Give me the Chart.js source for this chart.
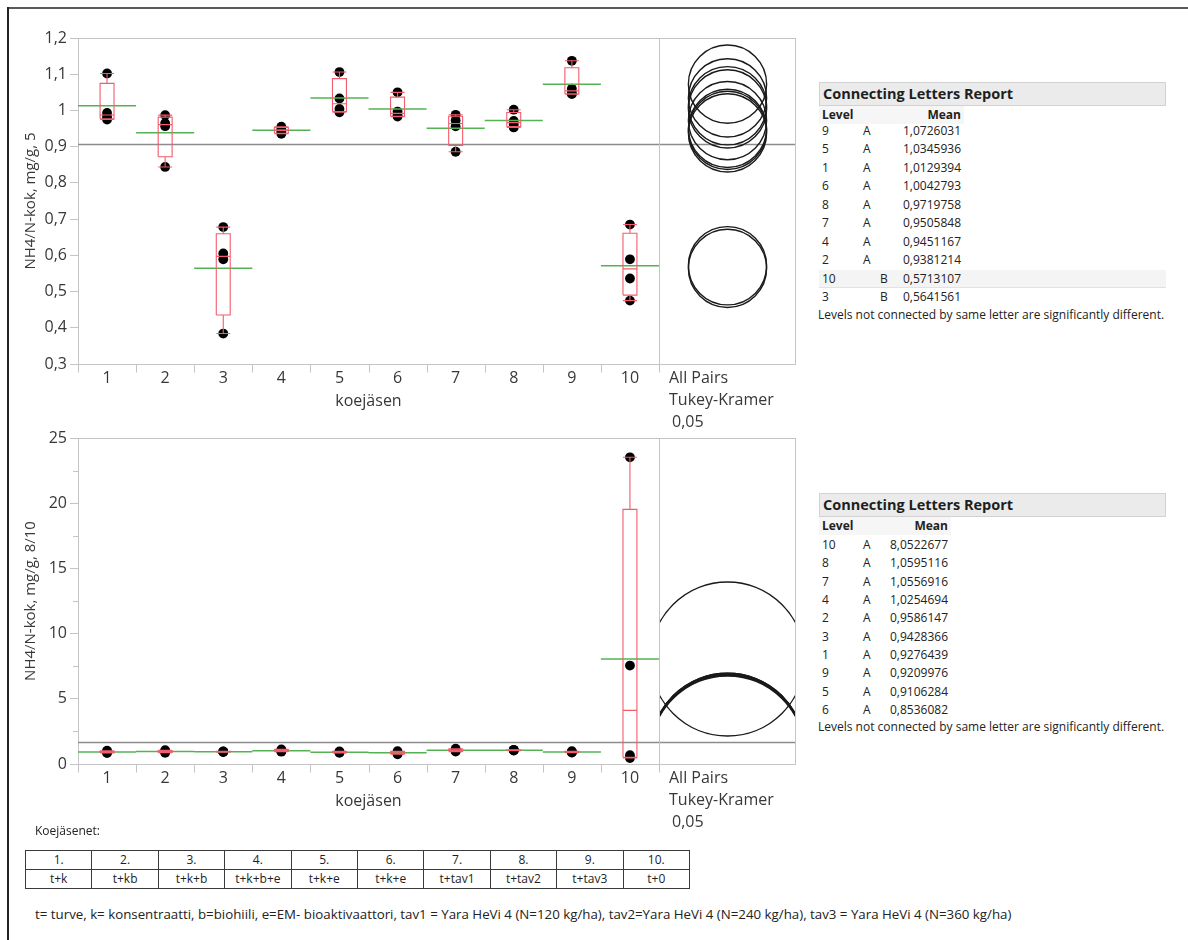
<!DOCTYPE html>
<html lang="fi">
<head>
<meta charset="utf-8">
<title>NH4/N-kok, Oneway</title>
<script src="https://cdn.jsdelivr.net/npm/chart.js@4.4.1/dist/chart.umd.min.js"></script>
<style>
  html, body { margin: 0; padding: 0; background: #fff; }
  body { position: relative; width: 1188px; height: 940px; overflow: hidden;
         font-family: "Open Sans", sans-serif; color: #222; }
  .edge-top  { position: absolute; left: 7px; top: 7px; width: 1181px; height: 2px; background: #5a5a5a; }
  .edge-left { position: absolute; left: 7px; top: 7px; width: 2px; height: 933px; background: #222; }
  canvas { position: absolute; left: 0; }
  #c5 { top: 0; }
  #c810 { top: 400px; }
  .t { position: absolute; white-space: nowrap; line-height: 18px; font-size: 12px; color: #222; }
  .head { position: absolute; left: 819px; width: 347px; height: 24px; box-sizing: border-box;
          background: #ebebeb; border: 1px solid #d2d2d2; font-weight: 700; font-size: 14.5px;
          line-height: 22px; padding-left: 3px; color: #1e1e1e; }
  .colhead { position: absolute; left: 819px; height: 18px; background: #f6f6f6; }
  .band { position: absolute; left: 819px; width: 347px; height: 18px; background: #f4f4f4;
          border-bottom: 1px solid #e2e2e2; box-sizing: border-box; }
  .b { font-weight: 700; }
  table.members { position: absolute; left: 25px; top: 850px; width: 665px; border-collapse: collapse;
                  table-layout: fixed; font-size: 12px; color: #1e1e1e; }
  table.members td { border: 1px solid #3a3a3a; height: 18px; padding: 0; text-align: center; line-height: 18px; }
</style>
</head>
<body>
<div class="edge-top"></div>
<div class="edge-left"></div>
<canvas id="c5" width="810" height="430"></canvas>
<canvas id="c810" width="810" height="430"></canvas>
<div id="reports"></div>
<div class="t" style="left:35px; top:822px; font-size:12px;">Koejäsenet:</div>
<table class="members" id="members"></table>
<div class="t" style="left:35px; top:905px; font-size:13.3px;">t= turve, k= konsentraatti, b=biohiili, e=EM- bioaktivaattori, tav1 = Yara HeVi 4 (N=120 kg/ha), tav2=Yara HeVi 4 (N=240 kg/ha), tav3 = Yara HeVi 4 (N=360 kg/ha)</div>

<script>
// Treatment levels and their descriptions
const levels = ['1', '2', '3', '4', '5', '6', '7', '8', '9', '10'];
const treatments = ['t+k', 't+kb', 't+k+b', 't+k+b+e', 't+k+e', 't+k+e', 't+tav1', 't+tav2', 't+tav3', 't+0'];

// NH4/N-kok, mg/g — sampling 5: four replicates per level
const obs5 = [
  [1.102, 0.993, 0.982, 0.975],
  [0.987, 0.965, 0.9565, 0.844],
  [0.678, 0.605, 0.589, 0.384],
  [0.955, 0.948, 0.942, 0.9355],
  [1.106, 1.033, 1.004, 0.995],
  [1.050, 0.997, 0.987, 0.983],
  [0.988, 0.972, 0.956, 0.886],
  [1.002, 0.971, 0.962, 0.953],
  [1.137, 1.060, 1.048, 1.045],
  [0.685, 0.589, 0.536, 0.475]
];
const means5 = [1.0129394, 0.9381214, 0.5641561, 0.9451167, 1.0345936, 1.0042793, 0.9505848, 0.9719758, 1.0726031, 0.5713107];
const letters5 = ['A', 'A', 'B', 'A', 'A', 'A', 'A', 'A', 'A', 'B'];
const yTicks5 = [0.3, 0.4, 0.5, 0.6, 0.7, 0.8, 0.9, 1.0, 1.1, 1.2];
const yTickLabels5 = ['0,3', '0,4', '0,5', '0,6', '0,7', '0,8', '0,9', '1', '1,1', '1,2'];
const circleRadius5 = 0.108;   // Tukey-Kramer comparison circle radius (data units)

// NH4/N-kok, mg/g — sampling 8/10
const obs810 = [
  [1.02, 0.95, 0.90, 0.8406],
  [1.06, 0.98, 0.93, 0.8645],
  [0.97, 0.95, 0.94, 0.9113],
  [1.12, 1.04, 1.00, 0.9419],
  [0.97, 0.92, 0.90, 0.8525],
  [0.98, 0.87, 0.82, 0.7444],
  [1.17, 1.08, 1.02, 0.9528],
  [1.09, 1.07, 1.05, 1.028],
  [0.98, 0.93, 0.90, 0.874],
  [23.52, 7.55, 0.68, 0.4591]
];
const means810 = [0.9276439, 0.9586147, 0.9428366, 1.0254694, 0.9106284, 0.8536082, 1.0556916, 1.0595116, 0.9209976, 8.0522677];
const letters810 = ['A', 'A', 'A', 'A', 'A', 'A', 'A', 'A', 'A', 'A'];
const yTicks810 = [0, 5, 10, 15, 20, 25];
const yTickLabels810 = ['0', '5', '10', '15', '20', '25'];
const yMinorTicks810 = [2.5, 7.5, 12.5, 17.5, 22.5];
const circleRadius810 = 5.9;

const panelLabels = ['All Pairs', 'Tukey-Kramer', '0,05'];

const AXIS_GRAY = '#c4c4c4';
const TEXT_GRAY = '#383838';
const BOX_RED = 'rgb(242, 92, 108)';
const MEAN_GREEN = 'rgb(84, 178, 84)';

// Quantile with the (n+1)p rule
function quantile(sorted, p) {
  const n = sorted.length, h = (n + 1) * p, lo = Math.floor(h), f = h - lo;
  if (lo < 1) return sorted[0];
  if (lo >= n) return sorted[n - 1];
  return sorted[lo - 1] + f * (sorted[lo] - sorted[lo - 1]);
}

// Outlier box plot outline as broken line segments
function boxSegments(obs) {
  const w = 0.12, out = [];
  const gap = (x) => out.push({ x, y: null });
  obs.forEach((g, i) => {
    const s = g.slice().sort((a, b) => a - b);
    const c = i + 1;
    const q1 = quantile(s, 0.25), med = quantile(s, 0.5), q3 = quantile(s, 0.75);
    const iqr = q3 - q1;
    const hi = Math.max(...s.filter(v => v <= q3 + 1.5 * iqr));
    const lo = Math.min(...s.filter(v => v >= q1 - 1.5 * iqr));
    out.push({ x: c - w, y: q1 }, { x: c + w, y: q1 }, { x: c + w, y: q3 }, { x: c - w, y: q3 }, { x: c - w, y: q1 }); gap(c);
    out.push({ x: c - w, y: med }, { x: c + w, y: med }); gap(c);
    out.push({ x: c, y: q3 }, { x: c, y: hi }); gap(c);
    out.push({ x: c - w, y: hi }, { x: c + w, y: hi }); gap(c);
    out.push({ x: c, y: q1 }, { x: c, y: lo }); gap(c);
    out.push({ x: c - w, y: lo }, { x: c + w, y: lo }); gap(c);
  });
  return out;
}

// Group mean lines spanning each level's width
function meanSegments(means) {
  const out = [];
  means.forEach((m, i) => {
    out.push({ x: i + 0.5, y: m }, { x: i + 1.5, y: m }, { x: i + 1.5, y: null });
  });
  return out;
}

// Grand mean line, plot frame, level separators and comparison circles
const onewayPanel = {
  id: 'onewayPanel',
  beforeDatasetsDraw(chart, _args, o) {
    const { ctx, chartArea: a, scales: { y } } = chart;
    const gy = Math.round(y.getPixelForValue(o.grandMean)) + 0.5;
    ctx.save();
    ctx.strokeStyle = '#8c8c8c';
    ctx.lineWidth = 1.4;
    ctx.beginPath();
    ctx.moveTo(a.left, gy);
    ctx.lineTo(a.right + o.panelWidth, gy);
    ctx.stroke();
    ctx.restore();
  },
  afterDraw(chart, _args, o) {
    const { ctx, chartArea: a, scales: { x, y } } = chart;
    const pl = Math.round(a.right), pr = pl + o.panelWidth;
    const T = Math.round(a.top) + 0.5, B = Math.round(a.bottom) + 0.5;
    ctx.save();
    ctx.strokeStyle = AXIS_GRAY;
    ctx.lineWidth = 1;
    ctx.beginPath();
    ctx.moveTo(a.left, T); ctx.lineTo(pr, T);
    ctx.moveTo(pl + 0.5, T); ctx.lineTo(pl + 0.5, B + 8);
    ctx.moveTo(pr - 0.5, T); ctx.lineTo(pr - 0.5, B);
    ctx.moveTo(pl, B); ctx.lineTo(pr, B);
    for (let k = 0; k < levels.length; k++) {
      const px = Math.round(x.getPixelForValue(k + 0.5)) + 0.5;
      ctx.moveTo(px, B); ctx.lineTo(px, B + 8);
    }
    (o.minorTicks || []).forEach(v => {
      const py = Math.round(y.getPixelForValue(v)) + 0.5;
      ctx.moveTo(a.left - 5, py); ctx.lineTo(a.left, py);
    });
    ctx.stroke();

    ctx.beginPath();
    ctx.rect(pl + 1, a.top + 1, o.panelWidth - 2, a.bottom - a.top - 1);
    ctx.clip();
    const cx = (pl + pr) / 2;
    ctx.strokeStyle = '#1a1a1a';
    ctx.lineWidth = 1.4;
    o.means.forEach(m => {
      const cy = y.getPixelForValue(m);
      const r = Math.abs(y.getPixelForValue(m + o.radius) - cy);
      ctx.beginPath();
      ctx.arc(cx, cy, r, 0, Math.PI * 2);
      ctx.stroke();
    });
    ctx.restore();

    ctx.save();
    ctx.fillStyle = TEXT_GRAY;
    ctx.font = '16px "Open Sans", sans-serif';
    ctx.textAlign = 'left';
    ctx.textBaseline = 'middle';
    o.labels.forEach((t, i) => ctx.fillText(t, pl + 10 + (i === 2 ? 3 : 0), a.bottom + 14 + i * 22));
    ctx.restore();
  }
};

function onewayChart(canvas, cfg) {
  const points = cfg.obs.flatMap((g, i) => g.map(v => ({ x: i + 1, y: v })));
  const grandMean = cfg.means.reduce((s, m) => s + m, 0) / cfg.means.length;
  return new Chart(canvas, {
    type: 'scatter',
    data: {
      datasets: [
        { type: 'scatter', data: points, pointRadius: 4.9, pointHoverRadius: 4.9,
          backgroundColor: '#000', borderWidth: 0, order: 3 },
        { type: 'line', data: meanSegments(cfg.means), borderColor: MEAN_GREEN, borderWidth: 1.5,
          pointRadius: 0, fill: false, spanGaps: false, order: 2 },
        { type: 'line', data: boxSegments(cfg.obs), borderColor: BOX_RED, borderWidth: 1.1,
          pointRadius: 0, fill: false, spanGaps: false, order: 1 }
      ]
    },
    options: {
      responsive: false,
      animation: false,
      events: [],
      layout: { padding: { left: 0, top: 38, right: 151, bottom: 19 } },
      plugins: {
        legend: { display: false },
        tooltip: { enabled: false },
        onewayPanel: {
          grandMean, means: cfg.means, radius: cfg.radius, panelWidth: 137,
          minorTicks: cfg.minorTicks, labels: panelLabels
        }
      },
      scales: {
        x: {
          type: 'linear', min: 0.5, max: levels.length + 0.5,
          afterBuildTicks: s => { s.ticks = levels.map((_, i) => ({ value: i + 1 })); },
          afterFit: s => { s.height = 47; },
          grid: { display: false },
          border: { display: true, color: AXIS_GRAY, width: 1 },
          ticks: { callback: (v, i) => levels[i], padding: -3, color: TEXT_GRAY,
                   font: { size: 16 }, maxRotation: 0, autoSkip: false },
          title: { display: true, text: 'koejäsen', color: TEXT_GRAY, font: { size: 16 },
                   padding: { top: 0, bottom: 0 } }
        },
        y: {
          type: 'linear', min: cfg.yTicks[0], max: cfg.yTicks[cfg.yTicks.length - 1],
          afterBuildTicks: s => { s.ticks = cfg.yTicks.map(v => ({ value: v })); },
          afterFit: s => { s.width = 78; },
          grid: { drawOnChartArea: false, drawTicks: true, tickLength: 8, color: AXIS_GRAY },
          border: { display: true, color: AXIS_GRAY, width: 1 },
          ticks: { callback: (v, i) => cfg.yTickLabels[i], padding: 3, color: TEXT_GRAY,
                   font: { size: 16 }, autoSkip: false },
          title: { display: true, text: cfg.yTitle, color: TEXT_GRAY, font: { size: 15 },
                   padding: { top: 22, bottom: 0 } }
        }
      }
    },
    plugins: [onewayPanel]
  });
}

// Connecting Letters Report, sorted by mean
function letterReport(host, r) {
  const order = r.means.map((m, i) => i).sort((a, b) => r.means[b] - r.means[a]);
  const letterCols = Array.from(new Set(r.letters)).sort();
  const add = (html, cls, style) => {
    const d = document.createElement('div');
    d.className = cls; d.style.cssText = style; d.innerHTML = html; host.appendChild(d);
  };
  add('Connecting Letters Report', 'head', `top:${r.headTop}px;`);
  add('', 'colhead', `top:${r.colY - 9}px; width:${r.meanRight - 816}px;`);
  add('Level', 't b', `left:822px; top:${r.colY - 9}px;`);
  add('Mean', 't b', `left:${r.meanRight - 60}px; width:60px; text-align:right; top:${r.colY - 9}px;`);
  let banded = false;
  order.forEach((g, k) => {
    const y = r.firstY + k * r.step - 9;
    if (!banded && r.letters[g] !== letterCols[0]) { add('', 'band', `top:${y}px;`); banded = true; }
    add(levels[g], 't', `left:822px; top:${y}px;`);
    add(r.letters[g], 't', `left:${r.letterX[letterCols.indexOf(r.letters[g])]}px; top:${y}px;`);
    add(r.means[g].toFixed(7).replace('.', ','), 't',
        `left:${r.meanRight - 80}px; width:80px; text-align:right; top:${y}px;`);
  });
  add('Levels not connected by same letter are significantly different.', 't', `left:818px; top:${r.noteY - 9}px;`);
}

function membersTable() {
  const t = document.getElementById('members');
  const r1 = t.insertRow(), r2 = t.insertRow();
  levels.forEach((l, i) => {
    r1.insertCell().textContent = l + '.';
    r2.insertCell().textContent = treatments[i];
  });
}

function build() {
  Chart.defaults.font.family = '"Open Sans", sans-serif';
  onewayChart(document.getElementById('c5'), {
    obs: obs5, means: means5, yTicks: yTicks5, yTickLabels: yTickLabels5,
    yTitle: 'NH4/N-kok, mg/g, 5', radius: circleRadius5, minorTicks: []
  });
  onewayChart(document.getElementById('c810'), {
    obs: obs810, means: means810, yTicks: yTicks810, yTickLabels: yTickLabels810,
    yTitle: 'NH4/N-kok, mg/g, 8/10', radius: circleRadius810, minorTicks: yMinorTicks810
  });
  const host = document.getElementById('reports');
  letterReport(host, { means: means5, letters: letters5, headTop: 82, colY: 115, firstY: 131,
                       step: 18.44, noteY: 315, letterX: [863, 880], meanRight: 961 });
  letterReport(host, { means: means810, letters: letters810, headTop: 493, colY: 526, firstY: 545,
                       step: 18.33, noteY: 727, letterX: [863], meanRight: 948 });
  membersTable();
}

const fontsReady = (document.fonts && document.fonts.load)
  ? Promise.all([document.fonts.load('16px "Open Sans"'), document.fonts.load('bold 14px "Open Sans"')])
  : Promise.resolve();
fontsReady.catch(() => {}).then(build);
</script>
</body>
</html>
